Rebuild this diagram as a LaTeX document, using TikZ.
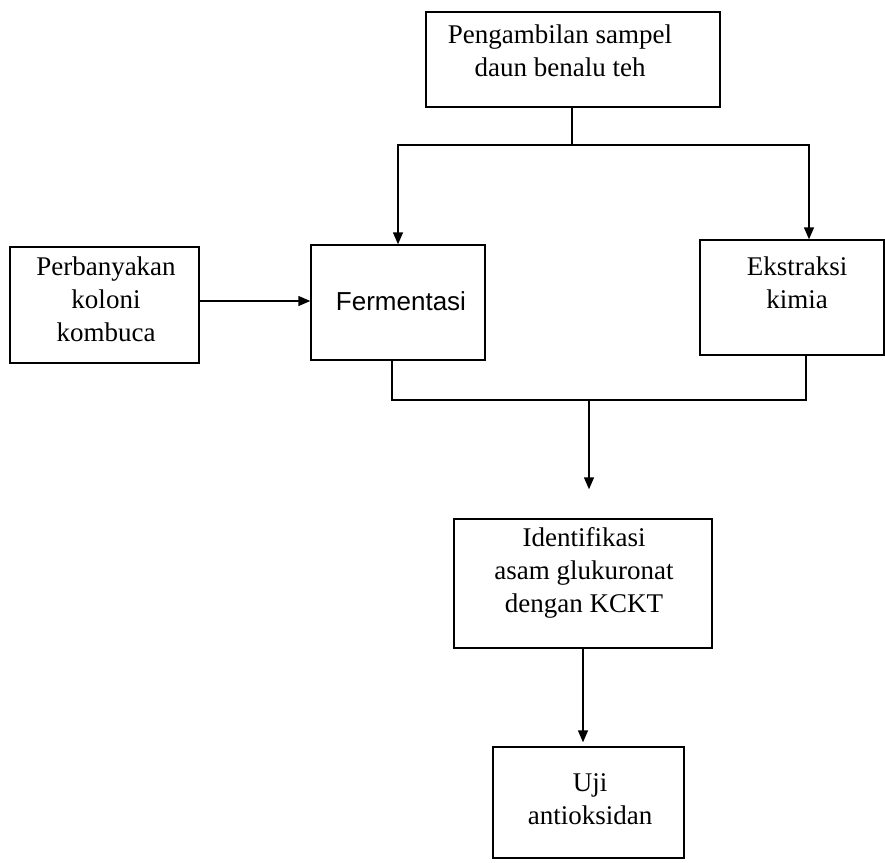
\documentclass[tikz,border=0pt]{standalone}
\usepackage{fontspec}
\setmainfont{Liberation Serif}
\newfontfamily\handfont{Liberation Sans}
\usetikzlibrary{arrows.meta, positioning}

\begin{document}
\begin{tikzpicture}[
    x=1pt, y=-1pt,
    box/.style={
        draw,
        line width=1.4pt,
        rectangle,
        inner sep=0pt,
    },
    txt/.style={
        align=center,
        inner sep=0pt,
        font=\fontsize{27}{33}\selectfont,
    },
    flow/.style={
        line width=1.4pt,
        -{Triangle[width=10pt, length=12pt]},
    },
    link/.style={
        line width=1.4pt,
    }
]
    \useasboundingbox (0,0) rectangle (885,862);

    % Boxes
    \node[box, minimum width=294pt, minimum height=95pt] (sampling) at (573,59.5) {};
    \node[box, minimum width=189pt, minimum height=116pt] (kombucha) at (104.5,305) {};
    \node[box, minimum width=174pt, minimum height=115pt] (ferment) at (398,302.5) {};
    \node[box, minimum width=184pt, minimum height=115pt] (extract) at (792,297.5) {};
    \node[box, minimum width=258pt, minimum height=129pt] (identify) at (583,583.5) {};
    \node[box, minimum width=191pt, minimum height=111pt] (test) at (588.5,802.5) {};

    % Box texts
    \node[txt] (sampling-txt) at (560,51) {Pengambilan sampel\\daun benalu teh};
    \node[txt] (kombucha-txt) at (106,299) {Perbanyakan\\koloni\\kombuca};
    \node[txt, font=\handfont\fontsize{26}{30}\selectfont] (ferment-txt) at (401,301) {Fermentasi};
    \node[txt] (extract-txt) at (797,283) {Ekstraksi\\kimia};
    \node[txt] (identify-txt) at (584,573) {Identifikasi\\asam glukuronat\\dengan KCKT};
    \node[txt] (test-txt) at (590,799) {Uji\\antioksidan};

    % Split
    \coordinate (split) at (572,145);
    \draw[link] (sampling.south -| split) -- (split);
    \draw[flow] (split) -| (ferment.north);
    \draw[flow] (split) -| ([xshift=17pt]extract.north);

    % Side input
    \draw[flow] (kombucha.east |- 0,301) -- (ferment.west |- 0,301);

    % Join
    \coordinate (join) at (589,400);
    \draw[link] ([xshift=-6pt]ferment.south) |- (join);
    \draw[link] ([xshift=14pt]extract.south) |- (join);
    \draw[flow, shorten >=29pt] (join) -- (join |- identify.north);

    \draw[flow, shorten >=4pt] (identify.south) -- (identify.south |- test.north);
\end{tikzpicture}
\end{document}
